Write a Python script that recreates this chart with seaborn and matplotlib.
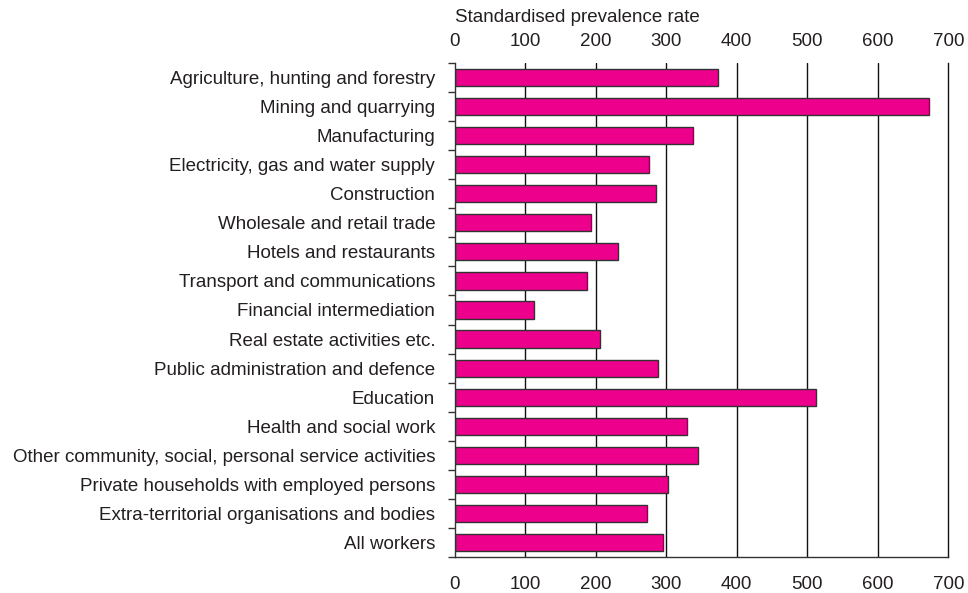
import matplotlib
matplotlib.use("Agg")
import matplotlib.pyplot as plt
import seaborn as sns
import pandas as pd
import numpy as np
from matplotlib.transforms import ScaledTranslation

categories = [
    "Agriculture, hunting and forestry",
    "Mining and quarrying",
    "Manufacturing",
    "Electricity, gas and water supply",
    "Construction",
    "Wholesale and retail trade",
    "Hotels and restaurants",
    "Transport and communications",
    "Financial intermediation",
    "Real estate activities etc.",
    "Public administration and defence",
    "Education",
    "Health and social work",
    "Other community, social, personal service activities",
    "Private households with employed persons",
    "Extra-territorial organisations and bodies",
    "All workers",
]
values = [374, 673, 338, 275, 285, 193, 232, 188, 112, 206, 289, 513, 330, 345, 303, 273, 296]
x_ticks = [0, 100, 200, 300, 400, 500, 600, 700]
axis_title = "Standardised prevalence rate"

sns.set_theme(style="white")
plt.rcParams['font.family'] = ['Liberation Sans', 'DejaVu Sans']

df = pd.DataFrame({"category": categories, "value": values})

FS = 13.5
TXT = "#231F20"

fig = plt.figure(figsize=(9.68, 5.93), dpi=100)
ax = fig.add_axes([0.4697, 0.0607, 0.5100, 0.8331])

sns.barplot(data=df, x="value", y="category", orient="h", color="#EC008C",
            edgecolor="#333333", linewidth=1.0, width=0.59, saturation=1, ax=ax)

ax.set_xlim(0, 700)
ax.set_ylim(len(categories) - 0.5, -0.5)
ax.set_xticks(x_ticks)
ax.set_xticklabels([str(t) for t in x_ticks])
ax.set_xlabel("")
ax.set_ylabel("")

for t in x_ticks[1:-1]:
    ax.axvline(t, color="#111111", lw=1.0, zorder=0)

ax.spines["top"].set_visible(False)
ax.spines["right"].set_visible(True)
ax.spines["right"].set_color("#111111")
ax.spines["left"].set_color("#333333")
ax.spines["bottom"].set_color("#333333")
for s in ["left", "bottom", "right"]:
    ax.spines[s].set_linewidth(1.0)

ax.tick_params(axis="x", which="both", top=False, bottom=False, length=0,
               labeltop=True, labelbottom=True, labelsize=FS, labelcolor=TXT, pad=14)
ax.set_yticks(np.arange(len(categories) + 1) - 0.5, minor=True)
ax.tick_params(axis="y", which="major", length=0, labelsize=FS, labelcolor=TXT, pad=14)
ax.tick_params(axis="y", which="minor", left=True, length=5, width=1.0, color="#333333")

# top labels slightly closer to the axes than bottom ones
for tk in ax.xaxis.get_major_ticks():
    tk.label2.set_transform(tk.label2.get_transform() + ScaledTranslation(0, -6 / 100, fig.dpi_scale_trans))

fig.text(0.4697, 0.971, axis_title, ha="left", va="center", fontsize=FS, color=TXT)

fig.savefig("out.png", dpi=100)
